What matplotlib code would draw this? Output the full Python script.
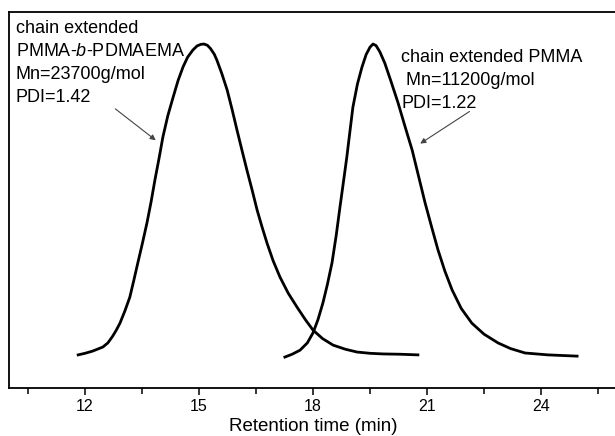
import matplotlib
matplotlib.use('Agg')
import matplotlib.pyplot as plt

plt.rcParams['font.family'] = ['Liberation Sans', 'DejaVu Sans']
plt.rcParams['mathtext.fontset'] = 'custom'
plt.rcParams['mathtext.rm'] = 'Liberation Sans'
plt.rcParams['mathtext.it'] = 'Liberation Sans:italic'

# chain extended PMMA-b-PDMAEMA
t_block = [11.82, 12.00, 12.20, 12.47, 12.60, 12.72, 12.82, 12.92, 13.05, 13.18, 13.28,
           13.39, 13.51, 13.63, 13.74, 13.84, 13.95, 14.05, 14.18, 14.32, 14.45, 14.58,
           14.70, 14.84, 14.95, 15.05, 15.13, 15.22, 15.30, 15.40, 15.47, 15.60, 15.74,
           15.87, 16.00, 16.13, 16.26, 16.40, 16.53, 16.66, 16.79, 16.95, 17.13, 17.35,
           17.58, 17.80, 18.00, 18.25, 18.53, 18.85, 19.16, 19.50, 19.84, 20.30, 20.76]
y_block = [0.010, 0.015, 0.022, 0.035, 0.048, 0.068, 0.088, 0.111, 0.150, 0.194, 0.245,
           0.303, 0.365, 0.430, 0.498, 0.567, 0.637, 0.704, 0.772, 0.831, 0.884, 0.927,
           0.958, 0.981, 0.994, 0.999, 1.000, 0.996, 0.986, 0.968, 0.949, 0.906, 0.854,
           0.792, 0.726, 0.662, 0.599, 0.534, 0.471, 0.417, 0.366, 0.310, 0.258, 0.206,
           0.162, 0.122, 0.089, 0.062, 0.041, 0.028, 0.019, 0.015, 0.013, 0.012, 0.010]

# chain extended PMMA
t_pmma = [17.26, 17.45, 17.66, 17.85, 18.00, 18.13, 18.26, 18.38, 18.50, 18.61, 18.71,
          18.80, 18.89, 18.97, 19.05, 19.17, 19.29, 19.40, 19.50, 19.58, 19.66, 19.76,
          19.89, 20.05, 20.24, 20.42, 20.61, 20.78, 20.95, 21.12, 21.29, 21.47, 21.66,
          21.90, 22.18, 22.50, 22.87, 23.20, 23.58, 24.18, 24.95]
y_pmma = [0.003, 0.012, 0.025, 0.048, 0.080, 0.122, 0.175, 0.235, 0.303, 0.390, 0.481,
          0.560, 0.640, 0.720, 0.799, 0.873, 0.927, 0.967, 0.990, 1.000, 0.995, 0.975,
          0.939, 0.882, 0.812, 0.738, 0.662, 0.578, 0.494, 0.418, 0.344, 0.277, 0.217,
          0.158, 0.111, 0.076, 0.048, 0.030, 0.016, 0.010, 0.006]

left_lines = ['chain extended', 'PMMA-$\\mathit{b}$-PDMAEMA', 'Mn=23700g/mol', 'PDI=1.42']
right_lines = ['chain extended PMMA', ' Mn=11200g/mol', 'PDI=1.22']

fig = plt.figure(figsize=(6.15, 4.36), dpi=100)
ax = fig.add_axes([9 / 615, 48 / 436, 608 / 615, 376 / 436])

ax.plot(t_block, y_block, color='black', lw=2.0)
ax.plot(t_pmma, y_pmma, color='black', lw=2.0)

ax.set_xlim(10, 26)
ax.set_ylim(-0.0955, 1.102)
ax.set_xticks([12, 15, 18, 21, 24])
ax.set_xticks([10.5, 13.5, 16.5, 19.5, 22.5, 25.5], minor=True)
ax.set_yticks([])
ax.tick_params(axis='x', which='major', direction='out', length=5, width=1.1, labelsize=11.5, pad=3)
ax.tick_params(axis='x', which='minor', direction='out', length=4, width=1.1)
for s in ax.spines.values():
    s.set_linewidth(1.3)
ax.spines['right'].set_visible(False)
ax.set_xlabel('Retention time (min)', fontsize=13.5, labelpad=3)

for i, line in enumerate(left_lines):
    ax.text(10.18, 1.035 - i * 0.0735, line, fontsize=13, va='baseline', ha='left')
for i, line in enumerate(right_lines):
    ax.text(20.32, 0.943 - i * 0.0735, line, fontsize=13, va='baseline', ha='left')

ax.annotate('', xy=(13.92, 0.688), xytext=(12.74, 0.799),
            arrowprops=dict(arrowstyle='-|>', color='#444444', lw=0.8, mutation_scale=8))
ax.annotate('', xy=(20.76, 0.678), xytext=(22.18, 0.790),
            arrowprops=dict(arrowstyle='-|>', color='#444444', lw=0.8, mutation_scale=8))

fig.savefig('out.png', dpi=100)
